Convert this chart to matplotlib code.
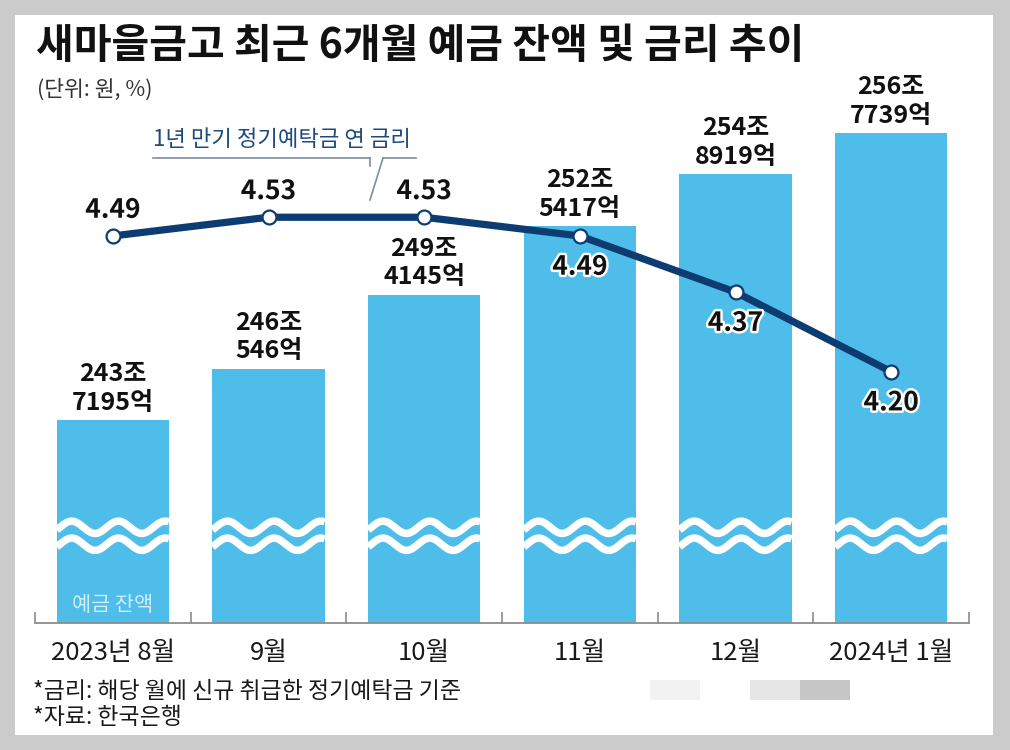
import numpy as np
import matplotlib
matplotlib.use("Agg")
import matplotlib.pyplot as plt
import matplotlib.patheffects as pe
from matplotlib.patches import Rectangle
from matplotlib.lines import Line2D

plt.rcParams['font.family'] = ['Noto Sans CJK KR', 'DejaVu Sans']

# data
months = ['2023년 8월', '9월', '10월', '11월', '12월', '2024년 1월']
bal_jo = [243, 246, 249, 252, 254, 256]          # 조
bal_eok = [7195, 546, 4145, 5417, 8919, 7739]    # 억
rate = [4.49, 4.53, 4.53, 4.49, 4.37, 4.20]
rate_below = [False, False, False, True, True, True]

balance = np.array(bal_jo) + np.array(bal_eok) / 10000.0
x = np.arange(len(months))

W, H = 1010, 750
bar_col = '#4ebdea'
navy = '#0d3c72'

fig = plt.figure(figsize=(W / 100, H / 100), dpi=100)
fig.patch.set_facecolor('#cbcbcb')


def px(xp, yp):
    # pixel (from top-left) -> figure fraction
    return xp / W, 1 - yp / H


# white page
fig.patches.append(Rectangle(px(15, 735), 978 / W, 720 / H, transform=fig.transFigure,
                             facecolor='white', edgecolor='none', zorder=-10))
# leftover smudges at bottom right
for x0, c in [(650, '#f2f2f2'), (750, '#e6e6e6'), (800, '#c6c6c6')]:
    fig.patches.append(Rectangle(px(x0, 700), 50 / W, 20 / H, transform=fig.transFigure,
                                 facecolor=c, edgecolor='none', zorder=-5))

ax = fig.add_axes([35 / W, 127 / H, 934 / W, 523 / H])
ax.patch.set_alpha(0)
ax.set_xlim(-0.5, 5.5)
ax.set_ylim(234.5, 258.27)

bw = 0.72
ax.bar(x, balance, width=bw, color=bar_col, zorder=2)

# axis break waves
for xi in x:
    xs = np.linspace(xi - bw / 2, xi + bw / 2, 200)
    for yc in [238.85, 238.08]:
        ys = yc + 0.28 * np.cos(2 * np.pi * (xs - (xi - bw / 2) - 0.096) / 0.30)
        ax.plot(xs, ys, color='white', lw=5.4, solid_capstyle='butt', zorder=3)

for s in ['top', 'right', 'left']:
    ax.spines[s].set_visible(False)
ax.spines['bottom'].set_color('#8c8c8c')
ax.spines['bottom'].set_linewidth(1.3)
ax.set_yticks([])
ax.set_xticks(x)
ax.set_xticklabels(months, fontsize=18.5, color='#1a1a1a')
ax.tick_params(axis='x', which='major', length=0, pad=12.5)
ax.set_xticks(np.arange(-0.5, 6, 1), minor=True)
ax.tick_params(axis='x', which='minor', direction='in', length=8, width=1.2, color='#8c8c8c')

# bar value labels
for xi, v, j, e in zip(x, balance, bal_jo, bal_eok):
    ax.annotate(f'{j}조', (xi, v), xytext=(0, 33), textcoords='offset points',
                ha='center', va='center', fontsize=18, fontweight='heavy', color='#111111', zorder=5)
    ax.annotate(f'{e}억', (xi, v), xytext=(0, 12.5), textcoords='offset points',
                ha='center', va='center', fontsize=18, fontweight='heavy', color='#111111', zorder=5)

ax.text(0, 235.3, '예금 잔액', ha='center', va='center', fontsize=15, color='#cdeefb', zorder=4)

# rate line
ax2 = ax.twinx()
ax2.set_ylim(3.663, 4.7805)
ax2.axis('off')
ax2.plot(x, rate, color=navy, lw=5.2, marker='o', ms=10, mfc='white', mec=navy, mew=1.6,
         solid_capstyle='round', zorder=4)
for xi, r, below in zip(x, rate, rate_below):
    off = -22.5 if below else 18.5
    ax2.annotate(f'{r:.2f}', (xi, r), xytext=(0, off), textcoords='offset points',
                 ha='center', va='center', fontsize=19, fontweight='heavy', color='#111111',
                 path_effects=[pe.withStroke(linewidth=3.5, foreground='white')], zorder=6)

# callout for the line
fig.text(*px(153, 140), '1년 만기 정기예탁금 연 금리', ha='left', va='center',
         fontsize=16, color='#1d4b7a')
fig.lines.append(Line2D([153 / W, 370 / W], [1 - 158 / H] * 2, transform=fig.transFigure,
                        color='#7a8ea3', lw=1.2))
fig.lines.append(Line2D([383 / W, 416 / W], [1 - 158 / H] * 2, transform=fig.transFigure,
                        color='#7a8ea3', lw=1.2))
fig.lines.append(Line2D([370 / W, 370 / W], [1 - 158 / H, 1 - 166 / H], transform=fig.transFigure,
                        color='#7a8ea3', lw=1.2))
fig.lines.append(Line2D([383 / W, 370 / W], [1 - 158 / H, 1 - 200 / H], transform=fig.transFigure,
                        color='#7a8ea3', lw=1.2))

# titles and notes
fig.text(*px(36, 46), '새마을금고 최근 6개월 예금 잔액 및 금리 추이', ha='left', va='center',
         fontsize=29.5, fontweight='heavy', color='#111111')
fig.text(*px(37, 90), '(단위: 원, %)', ha='left', va='center', fontsize=15.5, color='#333333')
fig.text(*px(33, 692), '*금리: 해당 월에 신규 취급한 정기예탁금 기준', ha='left', va='center',
         fontsize=16.5, color='#1a1a1a')
fig.text(*px(33, 718), '*자료: 한국은행', ha='left', va='center', fontsize=16.5, color='#1a1a1a')

fig.savefig('out.png', dpi=100, facecolor=fig.get_facecolor())
